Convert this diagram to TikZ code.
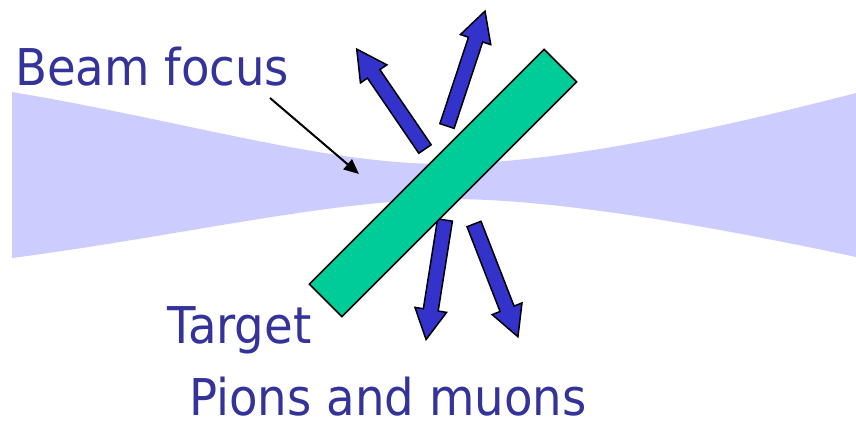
\documentclass[tikz,border=0pt]{standalone}
\usepackage{fontspec}
\setmainfont{DejaVu Sans}[FakeStretch=0.92]
\usetikzlibrary{arrows.meta}
\definecolor{beamblue}{HTML}{CCCCFF}
\definecolor{targetgreen}{HTML}{00CC99}
\definecolor{pionblue}{HTML}{3333CC}
\definecolor{labelblue}{HTML}{333399}

\begin{document}
\begin{tikzpicture}[
  x=1pt, y=-1pt,
  txt/.style={inner sep=0pt, anchor=base west, text=labelblue,
              font=\fontsize{50.7}{60}\selectfont},
  targetbar/.style={draw=black, line width=1.5pt, fill=targetgreen, rotate=45,
              minimum width=332pt, minimum height=46pt, inner sep=0pt},
  pionarrow/.style={draw=black, line width=1.5pt, fill=pionblue},
  pointer/.style={-{Triangle[length=15pt,width=13pt]}, line width=2pt},
  pion/.pic={\draw[pionarrow] (0,-7.5) -- (91,-7.5) -- (91,-16) -- (121,0)
              -- (91,16) -- (91,7.5) -- (0,7.5) -- cycle;}
]
  \useasboundingbox (0,0) rectangle (856,421);

  % Beam
  \fill[beamblue] (12,92) .. controls (180,120) and (320,163) .. (440,164)
    .. controls (560,164) and (720,128) .. (856,93) -- (856,257)
    .. controls (720,228) and (560,199) .. (450,199)
    .. controls (330,200) and (180,236) .. (12,258) -- cycle;

  % Pions and muons leaving the target
  \foreach \pos/\ang in {{(425,149)}/124.35, {(447,126)}/71.7,
                         {(445,220)}/-99, {(474,224)}/-68.7}
    \pic[rotate=\ang] at \pos {pion};

  % Target
  \node[targetbar] (target) at (443,183) {};

  % Labels
  \node[txt] (focus)  at (15,85)  {Beam focus};
  \node[txt] (tlabel) at (167,343) {Target};
  \node[txt] (pions)  at (189,415) {Pions and muons};

  \coordinate (focusfrom) at (270,98);
  \coordinate (focustip)  at (359,174);
  \draw[pointer] (focusfrom) -- (focustip);
\end{tikzpicture}
\end{document}
